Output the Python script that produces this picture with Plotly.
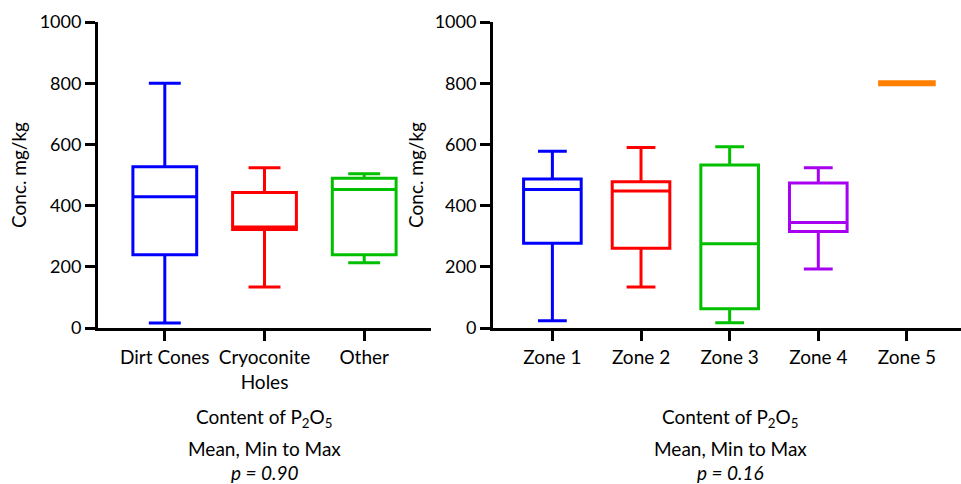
import plotly.graph_objects as go

# ---- data ----
left_cats = ["Dirt Cones", "Cryoconite<br>Holes", "Other"]
left_colors = ["#0000FF", "#FF0000", "#00C000"]
left_min = [16, 134, 213]
left_q1 = [239, 322, 239]
left_mid = [429, 330, 453]
left_q3 = [527, 443, 489]
left_max = [800, 524, 504]

right_cats = ["Zone 1", "Zone 2", "Zone 3", "Zone 4", "Zone 5"]
right_colors = ["#0000FF", "#FF0000", "#00C000", "#A800F0", "#FF8000"]
right_min = [24, 134, 17, 193, 800]
right_q1 = [277, 261, 63, 315, 800]
right_mid = [453, 448, 275, 345, 800]
right_q3 = [487, 478, 533, 474, 800]
right_max = [578, 590, 592, 524, 800]

y_ticks = [0, 200, 400, 600, 800, 1000]
p_left = "0.90"
p_right = "0.16"

FONT = "Lato"
FS = 19
TFS = 18

fig = go.Figure()

def add_boxes(cats, colors, mn, q1, md, q3, mx, xa, ya, bw):
    for i, c in enumerate(cats):
        single = (mn[i] == mx[i])
        fig.add_trace(go.Box(
            x=[c], q1=[q1[i]], median=[md[i]], q3=[q3[i]],
            lowerfence=[mn[i]], upperfence=[mx[i]],
            boxpoints=False, width=bw, whiskerwidth=0.5,
            fillcolor="rgba(255,255,255,0)",
            line=dict(color=colors[i], width=6 if single else 3),
            xaxis=xa, yaxis=ya, showlegend=False, hoverinfo="skip",
        ))

add_boxes(left_cats, left_colors, left_min, left_q1, left_mid, left_q3, left_max, "x", "y", 0.64)
add_boxes(right_cats, right_colors, right_min, right_q1, right_mid, right_q3, right_max, "x2", "y2", 0.65)

axis_common = dict(showline=True, linewidth=3, linecolor="black", ticks="outside",
                   ticklen=10, tickwidth=3, tickcolor="black", showgrid=False,
                   zeroline=False)

fig.update_layout(
    width=961, height=484,
    margin=dict(l=0, r=0, t=22, b=156),
    plot_bgcolor="white", paper_bgcolor="white",
    font=dict(family=FONT, size=FS, color="black"),
    xaxis=dict(domain=[98/961, 431/961], type="category", categoryorder="array",
               categoryarray=left_cats, range=[-0.67, 2.67], anchor="y",
               tickfont=dict(family=FONT, size=FS, color="black"), **axis_common),
    yaxis=dict(domain=[0, 1], range=[0, 1000], tickvals=y_ticks, anchor="x",
               tickfont=dict(family=FONT, size=TFS, color="black"),
               title=dict(text="Conc. mg/kg", font=dict(family=FONT, size=FS), standoff=8),
               **axis_common),
    xaxis2=dict(domain=[493/961, 1], type="category", categoryorder="array",
                categoryarray=right_cats, range=[-0.67, 4.61], anchor="y2",
                tickfont=dict(family=FONT, size=FS, color="black"), **axis_common),
    yaxis2=dict(domain=[0, 1], range=[0, 1000], tickvals=y_ticks, anchor="x2",
                tickfont=dict(family=FONT, size=TFS, color="black"),
                title=dict(text="Conc. mg/kg", font=dict(family=FONT, size=FS), standoff=6),
                **axis_common),
)

def add_titles(xc, p):
    lines = [("Content of P<sub>2</sub>O<sub>5</sub>", 418),
             ("Mean, Min to Max", 448),
             (f"<i>p = {p}</i>", 472)]
    for t, ypx in lines:
        fig.add_annotation(text=t, xref="paper", yref="paper",
                           x=xc, y=(328 - ypx) / 306,
                           xanchor="center", yanchor="middle", showarrow=False,
                           font=dict(family=FONT, size=FS, color="black"))

add_titles(264 / 961, p_left)
add_titles(730 / 961, p_right)

fig.write_html("out.html", config={"displayModeBar": False},
               post_script="document.body.style.margin='0';")
